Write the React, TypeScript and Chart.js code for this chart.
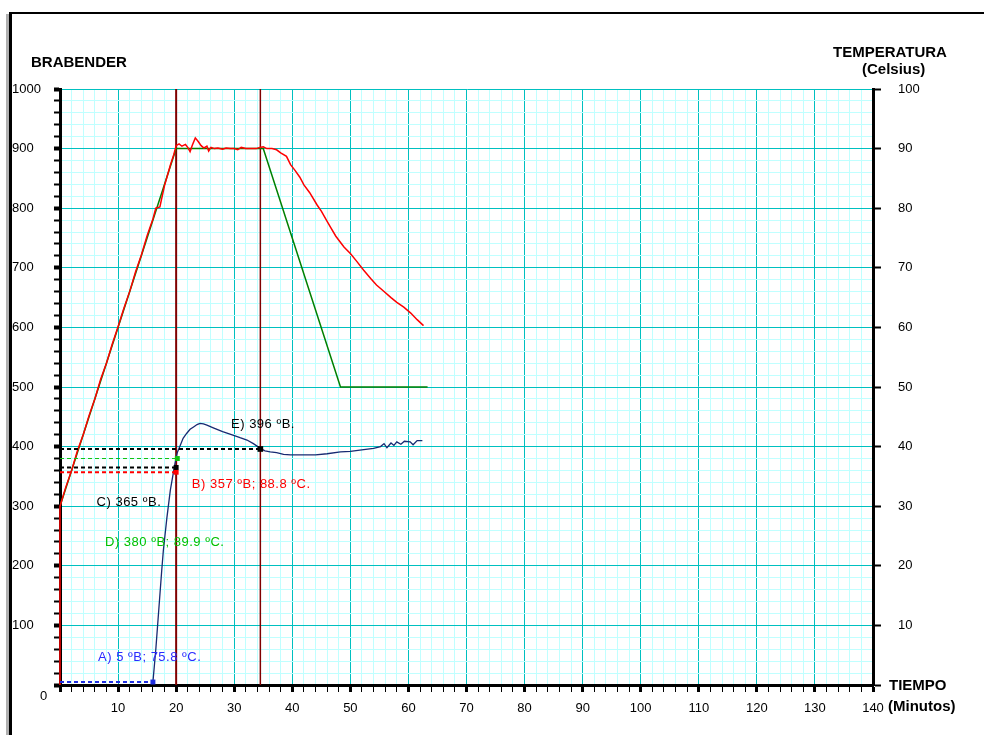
import React, { useEffect, useRef } from 'react';
import { Chart, registerables } from 'chart.js';

Chart.register(...registerables);

// ---- Data ----
// Temperature program (green), minutes / °C
const programTime = [0, 20, 35, 48.3, 63.3];
const programTemp = [30, 90, 90, 50, 50];

// Measured temperature (red), minutes / °C
const actualTime = [0, 0, 1, 2, 3, 4, 5, 6, 7, 8, 9, 10, 11, 12, 13, 14, 15, 16, 16.5, 17.2, 18, 19, 19.6, 20, 20.5, 21, 21.6, 22, 22.4, 22.8, 23.3, 23.8, 24.3, 24.8, 25.3, 25.6, 26, 26.6, 27.2, 28, 28.6, 29.3, 30, 30.6, 31.2, 32, 33, 33.8, 34.4, 35, 35.6, 36.5, 37.3, 38, 39, 39.7, 40.5, 41.3, 42, 43, 44.3, 45, 46, 46.6, 47.5, 48.9, 50, 51, 52.3, 53.5, 54.5, 55.7, 57, 58, 59.2, 60.4, 61.5, 62.6];
const actualTemp = [0, 30, 33.2, 36, 39.3, 42, 45.2, 48, 51.3, 54, 57.2, 60.1, 63.2, 66, 69.3, 72.1, 75.4, 78.2, 80, 80.2, 83.8, 87.2, 89, 90.5, 90.8, 90.4, 90.7, 90.2, 89.5, 90.6, 91.8, 91.2, 90.5, 90.1, 90.4, 89.6, 90.2, 90, 90.1, 89.9, 90.1, 90, 90, 89.8, 90.2, 90, 90, 90, 90.2, 90.3, 90, 90, 89.8, 89.3, 88.7, 87.3, 86.3, 85.2, 83.9, 82.6, 80.5, 79.5, 77.8, 76.8, 75.3, 73.5, 72.4, 71.2, 69.6, 68.2, 67.1, 66.1, 65, 64.2, 63.4, 62.4, 61.3, 60.3];

// Brabender viscosity (blue), minutes / BU
const viscTime = [16, 16.5, 17, 17.5, 17.8, 18.4, 19, 19.5, 19.8, 20.2, 20.7, 21.2, 21.8, 22.4, 23, 23.6, 24.1, 24.7, 25.3, 26.5, 28, 29.9, 31, 32.2, 33.3, 34.5, 35.3, 36.2, 37.3, 38.5, 39.7, 42, 44, 46, 48.3, 50, 52.3, 54, 55.2, 55.8, 56.3, 57, 57.5, 58, 58.7, 59.3, 60.3, 60.8, 61.5, 62.4];
const viscBU = [5, 60, 125, 190, 226, 280, 327, 355, 372, 390, 402, 414, 422, 429, 433, 437, 439, 438, 436, 431, 425, 419, 415, 411, 405, 397, 393, 391, 390, 387, 386, 386, 386, 388, 391, 392, 395, 397, 400, 405, 398, 406, 402, 408, 404, 409, 408, 403, 410, 410];

// Marked points A..E
const markerLabels = ['A) 5 ºB; 75.8 ºC.', 'B) 357 ºB; 88.8 ºC.', 'C) 365 ºB.', 'D) 380 ºB; 89.9 ºC.', 'E) 396 ºB.'];
const markerTime = [16, 20, 20, 20.2, 34.5];
const markerBU = [5, 357, 365, 380, 396];
const markerColors = ['#1f2fe0', '#ff0000', '#000000', '#10c010', '#000000'];

// Cursor lines (minutes)
const cursorTimes = [20, 34.5];

// ---- Layout (label anchors in data units: minutes, BU) ----
const labelAnchors: [number, number][] = [[6.55, 47], [22.7, 337], [6.3, 306], [7.75, 239], [29.45, 438]];
const labelColors = ['#2a2aff', '#ff0000', '#000000', '#00c000', '#000000'];

const FONT = '"Liberation Sans", Arial, sans-serif';
const MAJOR = '#00c0c0';
const MINOR = '#c0ffff';

const decor = {
  id: 'decor',
  beforeDraw(chart: any) {
    const { ctx } = chart;
    ctx.save();
    ctx.fillStyle = '#ffffff';
    ctx.fillRect(0, 0, chart.width, chart.height);
    ctx.fillStyle = '#b0b0b0';
    ctx.fillRect(6, 14, 3, chart.height - 14);
    ctx.fillStyle = '#000000';
    ctx.fillRect(9, 12, 3, chart.height - 12);
    ctx.fillRect(9, 12, chart.width - 9, 2);
    ctx.restore();
  },
  afterDraw(chart: any) {
    const { ctx } = chart;
    const x = chart.scales.x;
    const y = chart.scales.y;
    ctx.save();
    ctx.textBaseline = 'middle';
    ctx.textAlign = 'left';
    ctx.fillStyle = '#000000';
    ctx.font = 'bold 15px ' + FONT;
    ctx.fillText('BRABENDER', 31, 63);
    ctx.fillText('TEMPERATURA', 833, 53);
    ctx.fillText('(Celsius)', 862, 70);
    ctx.fillText('TIEMPO', 889, 686);
    ctx.fillText('(Minutos)', 888, 707);
    ctx.font = '13px ' + FONT;
    ctx.fillText('0', 40, 696);
    (ctx as any).letterSpacing = '0.5px';
    markerLabels.forEach((t, i) => {
      ctx.fillStyle = labelColors[i];
      ctx.fillText(t, x.getPixelForValue(labelAnchors[i][0]), y.getPixelForValue(labelAnchors[i][1]));
    });
    ctx.restore();
  },
};

const zip = (a: number[], b: number[]) => a.map((v, i) => ({ x: v, y: b[i] }));

export default function App() {
  const ref = useRef<HTMLCanvasElement | null>(null);

  useEffect(() => {
    if (!ref.current) return;
    // built bottom-to-top, then reversed (Chart.js paints the first dataset last)
    const datasets: any[] = [];

    cursorTimes.forEach((t, i) => {
      datasets.push({
        data: [{ x: t, y: 0 }, { x: t, y: 1000 }],
        yAxisID: 'y',
        showLine: true,
        borderColor: '#800000',
        borderWidth: i === 0 ? 2 : 1.5,
        pointRadius: 0,
      });
    });

    datasets.push({
      data: zip(programTime, programTemp),
      yAxisID: 'y2',
      showLine: true,
      borderColor: '#008000',
      borderWidth: 1.5,
      pointRadius: 0,
    });
    datasets.push({
      data: zip(actualTime, actualTemp),
      yAxisID: 'y2',
      showLine: true,
      borderColor: '#ff0000',
      borderWidth: 1.5,
      pointRadius: 0,
      clip: false,
    });
    datasets.push({
      data: zip(viscTime, viscBU),
      yAxisID: 'y',
      showLine: true,
      borderColor: '#172a72',
      borderWidth: 1.3,
      pointRadius: 0,
    });

    markerTime.forEach((t, i) => {
      datasets.push({
        data: [{ x: 0, y: markerBU[i] }, { x: t, y: markerBU[i] }],
        yAxisID: 'y',
        showLine: true,
        borderColor: markerColors[i],
        borderWidth: i === 3 ? 1 : 2,
        borderDash: [4, 3],
        pointRadius: 0,
        clip: false,
      });
    });
    markerTime.forEach((t, i) => {
      datasets.push({
        data: [{ x: t, y: markerBU[i] }],
        yAxisID: 'y',
        showLine: false,
        pointStyle: 'rect',
        pointRadius: i === 4 ? 4 : 3.5,
        backgroundColor: markerColors[i],
        borderColor: markerColors[i],
        borderWidth: 0,
        clip: false,
      });
    });
    datasets.reverse();

    const chart = new Chart(ref.current, {
      type: 'scatter',
      data: { datasets },
      plugins: [decor],
      options: {
        animation: false,
        responsive: false,
        devicePixelRatio: 1,
        layout: { padding: { left: 12, right: 51, top: 89, bottom: 0 } },
        plugins: { legend: { display: false }, tooltip: { enabled: false } },
        scales: {
          x: {
            type: 'linear',
            min: 0,
            max: 140,
            afterFit: (s: any) => { s.height = 50; },
            border: { display: true, color: '#000000', width: 3 },
            grid: {
              color: (c: any) => (c.tick && c.tick.value % 10 === 0 ? MAJOR : MINOR),
              lineWidth: 1,
              tickLength: 7,
              tickColor: '#000000',
              tickWidth: (c: any) => (c.tick && c.tick.value % 10 === 0 ? 3 : 1),
            },
            ticks: {
              stepSize: 2,
              autoSkip: false,
              maxRotation: 0,
              padding: 9,
              color: '#000000',
              font: { family: FONT, size: 13 },
              callback: (v: any) => (v % 10 === 0 && v !== 0 ? String(v) : ''),
            },
          },
          y: {
            type: 'linear',
            position: 'left',
            min: 0,
            max: 1000,
            afterFit: (s: any) => { s.width = 48; },
            border: { display: true, color: '#000000', width: 3 },
            grid: {
              color: (c: any) => (c.tick && c.tick.value % 100 === 0 ? MAJOR : MINOR),
              lineWidth: 1,
              tickLength: 6,
              tickColor: '#000000',
              tickWidth: (c: any) => (c.tick && c.tick.value % 100 === 0 ? 4 : 2),
            },
            ticks: {
              stepSize: 20,
              autoSkip: false,
              crossAlign: 'far',
              padding: 4,
              color: '#000000',
              font: { family: FONT, size: 13 },
              callback: (v: any) => (v % 100 === 0 && v !== 0 ? String(v) : ''),
            },
          },
          y2: {
            type: 'linear',
            position: 'right',
            min: 0,
            max: 100,
            afterFit: (s: any) => { s.width = 60; },
            border: { display: true, color: '#000000', width: 3 },
            grid: {
              drawOnChartArea: false,
              tickLength: 8,
              tickColor: '#000000',
              tickWidth: 2,
            },
            ticks: {
              stepSize: 10,
              autoSkip: false,
              padding: 17,
              color: '#000000',
              font: { family: FONT, size: 13 },
              callback: (v: any) => (v !== 0 ? String(v) : ''),
            },
          },
        },
      } as any,
    });
    return () => chart.destroy();
  }, []);

  return (
    <div style={{ position: 'fixed', left: 0, top: 0, width: 984, height: 735 }}>
      <canvas ref={ref} width={984} height={735} style={{ display: 'block' }} />
    </div>
  );
}
